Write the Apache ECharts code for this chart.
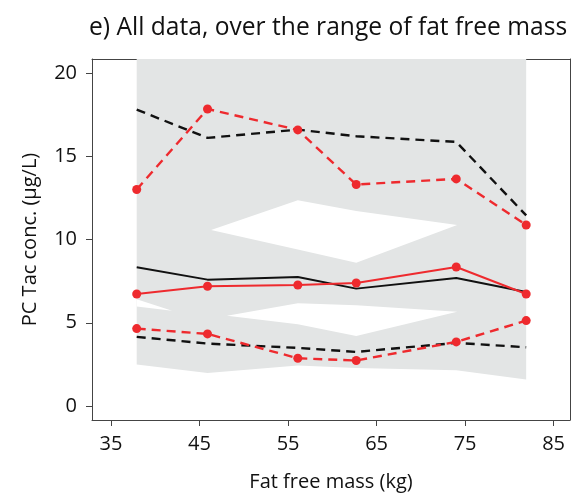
<!DOCTYPE html>
<html>
<head>
<meta charset="utf-8">
<script src="https://cdn.jsdelivr.net/npm/echarts@6/dist/echarts.min.js"></script>
<style>
html, body { margin: 0; padding: 0; background: #fff; }
#chart { width: 573px; height: 497px; }
</style>
</head>
<body>
<div id="chart"></div>
<script>
// Fat free mass bin centres (kg)
const ffm = [37.9, 45.9, 56.1, 62.7, 74.0, 81.9];

// Summaries of all data per bin (µg/L): black lines
const medianAll = [8.33, 7.59, 7.75, 7.05, 7.69, 6.85];
const upperAll = [17.8, 16.1, 16.6, 16.2, 15.86, 11.45];
const lowerAll = [4.15, 3.75, 3.49, 3.25, 3.79, 3.53];

// Observed percentiles per bin (µg/L): red lines with points
const medianObs = [6.73, 7.19, 7.27, 7.39, 8.35, 6.73];
const upperObs = [13.0, 17.84, 16.58, 13.3, 13.64, 10.87];
const lowerObs = [4.65, 4.33, 2.87, 2.73, 3.85, 5.13];

// Shaded envelope of the interval bands
const envelopeLow = [2.49, 1.99, 2.43, 2.29, 2.15, 1.59];
const envelopeHigh = [21.5, 21.5, 21.5, 21.5, 21.5, 21.5];

// Unshaded gap between the upper and middle bands
const upperGapX = [46.3, 56.1, 62.7, 74.1];
const upperGapLow = [10.57, 9.4, 8.61, 10.87];
const upperGapHigh = [10.57, 12.36, 11.71, 10.87];

// Unshaded gap between the middle and lower bands
const lowerGapX = [37.9, 41.9, 48.1, 56.1, 62.7, 74.1];
const lowerGapLow = [5.98, 5.72, 5.42, 4.91, 4.21, 5.66];
const lowerGapHigh = [6.41, 5.72, 5.42, 6.17, 6.05, 5.66];

// Axis ticks
const xTicks = [35, 45, 55, 65, 75, 85];
const yTicks = [0, 5, 10, 15, 20];

const FONT = 'Open Sans';
const RED = '#ee2a2e';
const BLACK = '#111111';
const SHADE = '#e3e5e5';
const FRAME = '#444444';
const X_RANGE = [32.85, 86.85];
const Y_RANGE = [-0.84, 20.84];

function pairs(xs, ys) {
  return xs.map((x, i) => [x, ys[i]]);
}

// A filled region between two edges; the whole outline is drawn as one polygon
function band(xs, lo, hi, color, z) {
  return {
    type: 'custom',
    silent: true,
    clip: true,
    z: z,
    data: xs.map((x, i) => [x, lo[i], hi[i]]),
    encode: { x: 0, y: [1, 2] },
    renderItem: function (params, api) {
      if (params.dataIndexInside !== 0) return null;
      const n = params.dataInsideLength;
      const top = [], bottom = [];
      for (let i = 0; i < n; i++) {
        const x = api.value(0, i);
        top.push(api.coord([x, api.value(2, i)]));
        bottom.push(api.coord([x, api.value(1, i)]));
      }
      return {
        type: 'polygon',
        shape: { points: top.concat(bottom.reverse()) },
        style: { fill: color, stroke: null }
      };
    }
  };
}

function line(data, color, dashed, withPoints) {
  return {
    type: 'line',
    data: pairs(ffm, data),
    symbol: withPoints ? 'circle' : 'none',
    symbolSize: 9,
    showSymbol: withPoints,
    itemStyle: { color: color, borderWidth: 0 },
    lineStyle: {
      color: color,
      width: dashed ? 2.4 : 2,
      type: dashed ? [9, 6] : 'solid'
    },
    z: withPoints ? 4 : 3
  };
}

// Plain edge of the plotting frame (top and right sides)
function frameAxis(pos, range) {
  return {
    type: 'value', position: pos, min: range[0], max: range[1],
    axisLine: { show: true, onZero: false, lineStyle: { color: FRAME, width: 1 } },
    axisTick: { show: false }, axisLabel: { show: false }, splitLine: { show: false }
  };
}

const chart = echarts.init(document.getElementById('chart'), null, { renderer: 'canvas' });

chart.setOption({
  animation: false,
  backgroundColor: '#ffffff',
  title: {
    text: 'e) All data, over the range of fat free mass',
    left: 89,
    top: 15,
    padding: 0,
    textStyle: { fontFamily: FONT, fontSize: 24.6, fontWeight: 'normal', color: '#111' }
  },
  grid: { left: 92, right: 3, top: 59, bottom: 76 },
  xAxis: [{
    type: 'value',
    min: X_RANGE[0], max: X_RANGE[1],
    position: 'bottom',
    name: 'Fat free mass (kg)',
    nameLocation: 'middle',
    nameGap: 52,
    nameTextStyle: { fontFamily: FONT, fontSize: 20, color: '#111' },
    axisLine: { show: true, onZero: false, lineStyle: { color: FRAME, width: 1 } },
    axisTick: { show: true, length: 6, customValues: xTicks, lineStyle: { color: FRAME } },
    axisLabel: { customValues: xTicks, margin: 14, fontFamily: FONT, fontSize: 20, color: '#111' },
    splitLine: { show: false }
  }, frameAxis('top', X_RANGE)],
  yAxis: [{
    type: 'value',
    min: Y_RANGE[0], max: Y_RANGE[1],
    position: 'left',
    name: 'PC Tac conc. (μg/L)',
    nameLocation: 'middle',
    nameGap: 52,
    nameTextStyle: { fontFamily: FONT, fontSize: 20, color: '#111' },
    axisLine: { show: true, onZero: false, lineStyle: { color: FRAME, width: 1 } },
    axisTick: { show: true, length: 6, customValues: yTicks, lineStyle: { color: FRAME } },
    axisLabel: { customValues: yTicks, margin: 15, fontFamily: FONT, fontSize: 20, color: '#111' },
    splitLine: { show: false }
  }, frameAxis('right', Y_RANGE)],
  series: [
    band(ffm, envelopeLow, envelopeHigh, SHADE, 1),
    band(upperGapX, upperGapLow, upperGapHigh, '#ffffff', 2),
    band(lowerGapX, lowerGapLow, lowerGapHigh, '#ffffff', 2),
    line(upperAll, BLACK, true, false),
    line(medianAll, BLACK, false, false),
    line(lowerAll, BLACK, true, false),
    line(upperObs, RED, true, true),
    line(medianObs, RED, false, true),
    line(lowerObs, RED, true, true)
  ]
});
</script>
</body>
</html>
